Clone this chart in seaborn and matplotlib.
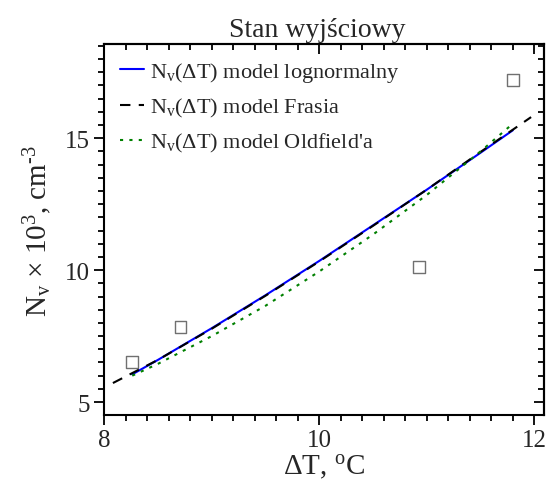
import numpy as np
import pandas as pd
import matplotlib
matplotlib.use("Agg")
import matplotlib.pyplot as plt
from matplotlib.ticker import MultipleLocator
import seaborn as sns

# measured points
dt_exp = [8.26, 8.71, 10.93, 11.80]
nv_exp = [6.52, 7.84, 10.11, 17.2]

# model curves
dt_logn = [8.26, 8.5, 9.0, 9.5, 10.0, 10.5, 11.0, 11.5, 11.8]
nv_logn = [6.05, 6.6, 7.8, 9.05, 10.35, 11.7, 13.05, 14.45, 15.3]

dt_fras = [8.08, 8.5, 9.0, 9.5, 10.0, 10.5, 11.0, 11.5, 11.97]
nv_fras = [5.72, 6.6, 7.78, 9.03, 10.33, 11.68, 13.05, 14.48, 15.8]

dt_old = [8.26, 8.5, 9.0, 9.5, 10.0, 10.5, 11.0, 11.5, 11.8]
nv_old = [6.0, 6.45, 7.5, 8.65, 9.95, 11.35, 12.85, 14.5, 15.55]

sns.set_theme(style="white")
plt.rcParams['font.family'] = ['Liberation Serif', 'DejaVu Serif']
plt.rcParams['mathtext.fontset'] = 'custom'
plt.rcParams['mathtext.rm'] = 'Liberation Serif'
plt.rcParams['mathtext.it'] = 'Liberation Serif:italic'

fig = plt.figure(figsize=(5.47, 4.89), dpi=100)
ax = fig.add_axes([0.1907, 0.1499, 0.8038, 0.7575])

sns.lineplot(x=dt_logn, y=nv_logn, ax=ax, color='#0000ff', lw=1.5,
             label=r'N$_\mathrm{v}$(ΔT) model lognormalny')
sns.lineplot(x=dt_fras, y=nv_fras, ax=ax, color='black', lw=1.5,
             label=r'N$_\mathrm{v}$(ΔT) model Frasia')
ax.lines[-1].set_dashes((5, 4))
sns.lineplot(x=dt_old, y=nv_old, ax=ax, color='#008000', lw=1.5,
             label=r"N$_\mathrm{v}$(ΔT) model Oldfield'a")
ax.lines[-1].set_dashes((1.5, 3))
sns.scatterplot(x=dt_exp, y=nv_exp, ax=ax, marker='s', s=70,
                facecolor='none', edgecolor='#707070', linewidth=1.0,
                legend=False)

ax.set_xlim(8, 12.09)
ax.set_ylim(4.52, 18.56)
ax.xaxis.set_major_locator(MultipleLocator(2))
ax.xaxis.set_minor_locator(MultipleLocator(0.2))
ax.yaxis.set_major_locator(MultipleLocator(5))
ax.yaxis.set_minor_locator(MultipleLocator(0.5))
ax.tick_params(which='both', direction='out', width=1.3, labelsize=18,
               color='black', bottom=True, left=True)
ax.tick_params(which='major', length=7)
ax.tick_params(which='minor', length=4)

# mirrored ticks on top/right pointing inward
top = ax.secondary_xaxis('top')
top.xaxis.set_major_locator(MultipleLocator(2))
top.xaxis.set_minor_locator(MultipleLocator(0.2))
top.tick_params(which='both', direction='in', width=1.3, labeltop=False, color='black')
top.tick_params(which='major', length=7)
top.tick_params(which='minor', length=4)
right = ax.secondary_yaxis('right')
right.yaxis.set_major_locator(MultipleLocator(5))
right.yaxis.set_minor_locator(MultipleLocator(0.5))
right.tick_params(which='both', direction='in', width=1.3, labelright=False, color='black')
right.tick_params(which='major', length=7)
right.tick_params(which='minor', length=4)

for sp in ax.spines.values():
    sp.set_color('black')
    sp.set_linewidth(1.5)
for s in (top, right):
    for sp in s.spines.values():
        sp.set_linewidth(1.5)
        sp.set_color('black')

ax.set_xlabel(r'ΔT, $^\mathrm{o}$C', fontsize=21, labelpad=1)
ax.set_ylabel(r'N$_\mathrm{v}$ × 10$^\mathrm{3}$, cm$^{\text{-}\mathrm{3}}$', fontsize=21, labelpad=8)
ax.set_title('Stan wyjściowy', fontsize=20, pad=6, x=0.485)

ax.legend(loc='upper left', frameon=False, fontsize=16, handlelength=1.1,
          handletextpad=0.25, labelspacing=0.55, borderaxespad=0.3)

fig.savefig('out.png', dpi=100)
